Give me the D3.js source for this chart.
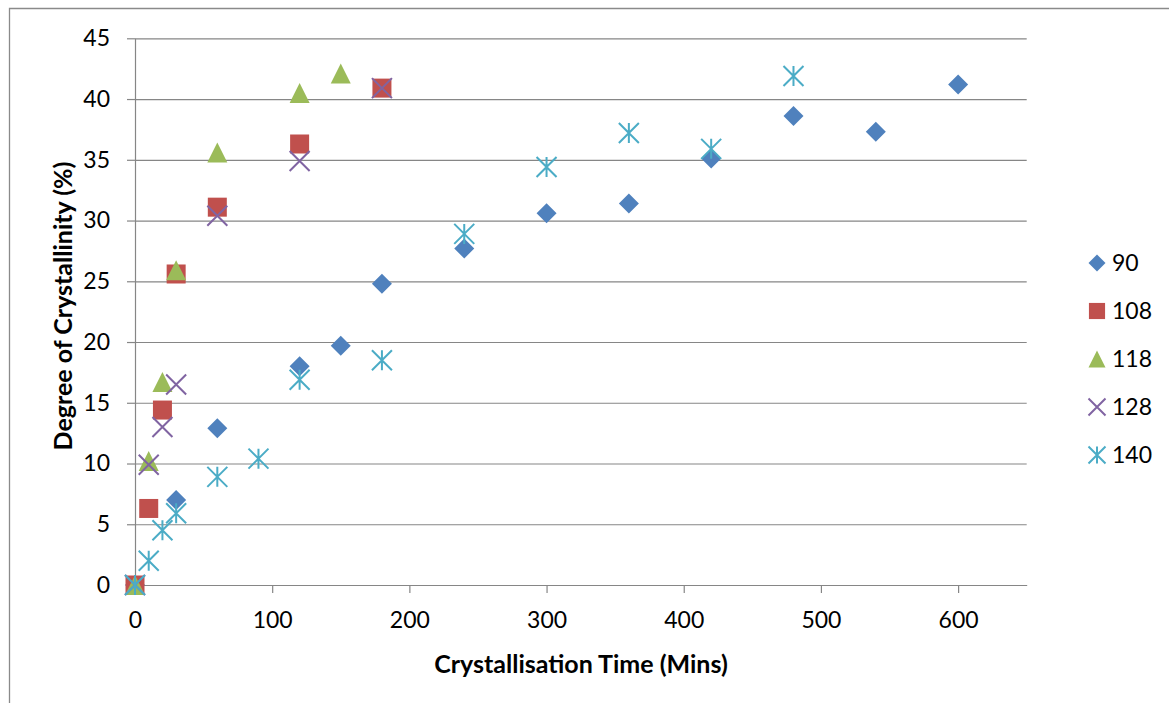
<!DOCTYPE html>
<html>
<head>
<meta charset="utf-8">
<script src="https://cdn.jsdelivr.net/npm/d3@7"></script>
<style>
  html, body { margin: 0; padding: 0; background: #fff; }
  svg { display: block; }
  text { font-family: Lato, "Open Sans", sans-serif; fill: #000; }
</style>
</head>
<body>
<svg id="chart" width="1169" height="703"></svg>
<script>
// ---- Data ----
const seriesNames = ["90", "108", "118", "128", "140"];
const time90  = [0, 30, 60, 120, 150, 180, 240, 300, 360, 420, 480, 540, 600];
const cryst90 = [0, 7.0, 12.9, 18.0, 19.7, 24.8, 27.7, 30.6, 31.4, 35.1, 38.6, 37.3, 41.2];
const time108  = [0, 10, 20, 30, 60, 120, 180];
const cryst108 = [0, 6.3, 14.4, 25.6, 31.1, 36.3, 40.9];
const time118  = [0, 10, 20, 30, 60, 120, 150];
const cryst118 = [0, 10.2, 16.7, 25.9, 35.6, 40.5, 42.1];
const time128  = [0, 10, 20, 30, 60, 120, 180];
const cryst128 = [0, 9.9, 13.0, 16.5, 30.4, 34.9, 40.9];
const time140  = [0, 10, 20, 30, 60, 90, 120, 180, 240, 300, 360, 420, 480];
const cryst140 = [0, 2.0, 4.5, 5.9, 8.9, 10.4, 16.9, 18.5, 28.9, 34.4, 37.2, 35.9, 41.9];
const xTicks = [0, 100, 200, 300, 400, 500, 600];
const yTicks = [0, 5, 10, 15, 20, 25, 30, 35, 40, 45];
const xTitle = "Crystallisation Time (Mins)";
const yTitle = "Degree of Crystallinity (%)";

(function () {
// ---- Layout / style ----
const colors = ["#4F81BD", "#C0504D", "#9BBB59", "#8064A2", "#4BACC6"];
const shapes = ["diamond", "square", "triangle", "cross", "star"];
const seriesTimes = [time90, time108, time118, time128, time140];
const seriesVals = [cryst90, cryst108, cryst118, cryst128, cryst140];

const plotL = 135, plotR = 1026.7, plotT = 38.3, plotB = 585;
const gridColor = "#868686";
const fontSize = 23;
const titleSize = 25;

const svg = d3.select("#chart");

// outer chart border (extends past the right/bottom edges)
svg.append("path")
  .attr("d", "M9.5,703 V8.5 H1169")
  .attr("fill", "none").attr("stroke", "#8a8a8a").attr("stroke-width", 1.3);

const x = d3.scaleLinear().domain([0, 650]).range([plotL, plotR]);
const y = d3.scaleLinear().domain([0, 45]).range([plotB, plotT]);

// horizontal gridlines
svg.append("g")
  .attr("transform", `translate(${plotL},0)`)
  .call(d3.axisLeft(y).tickValues(yTicks).tickSize(-(plotR - plotL)).tickFormat(""))
  .call(g => g.select(".domain").remove())
  .call(g => g.selectAll("line").attr("stroke", gridColor).attr("stroke-width", 1.2));

// y axis
svg.append("g")
  .attr("transform", `translate(${plotL},0)`)
  .call(d3.axisLeft(y).tickValues(yTicks).tickSize(8).tickSizeOuter(0).tickPadding(17))
  .call(g => g.select(".domain").attr("stroke", gridColor).attr("stroke-width", 1.2))
  .call(g => g.selectAll("line").attr("stroke", gridColor).attr("stroke-width", 1.2))
  .call(g => g.selectAll("text").attr("font-size", fontSize).attr("font-family", "Lato").attr("fill", "#000"));

// x axis
svg.append("g")
  .attr("transform", `translate(0,${plotB})`)
  .call(d3.axisBottom(x).tickValues(xTicks).tickSize(8).tickSizeOuter(0).tickPadding(19))
  .call(g => g.select(".domain").attr("stroke", gridColor).attr("stroke-width", 1.2))
  .call(g => g.selectAll("line").attr("stroke", gridColor).attr("stroke-width", 1.2))
  .call(g => g.selectAll("text").attr("font-size", fontSize).attr("font-family", "Lato").attr("fill", "#000"));

// axis titles
svg.append("text")
  .attr("x", 581).attr("y", 673)
  .attr("text-anchor", "middle")
  .attr("font-size", titleSize).attr("font-weight", "bold")
  .text(xTitle);

svg.append("text")
  .attr("transform", `translate(72,306) rotate(-90)`)
  .attr("text-anchor", "middle")
  .attr("font-size", titleSize).attr("font-weight", "bold")
  .text(yTitle);

// marker drawing
function drawMarker(g, shape, color, s) {
  const h = s / 2;
  if (shape === "diamond") {
    g.append("path").attr("d", `M0,${-h} L${h},0 L0,${h} L${-h},0 Z`).attr("fill", color);
  } else if (shape === "square") {
    g.append("rect").attr("x", -h * 0.95).attr("y", -h * 0.95)
      .attr("width", s * 0.95).attr("height", s * 0.95).attr("fill", color);
  } else if (shape === "triangle") {
    g.append("path").attr("d", `M0,${-h} L${h},${h} L${-h},${h} Z`).attr("fill", color);
  } else if (shape === "cross") {
    g.append("path").attr("d", `M${-h},${-h} L${h},${h} M${h},${-h} L${-h},${h}`)
      .attr("stroke", color).attr("stroke-width", 2).attr("fill", "none");
  } else if (shape === "star") {
    g.append("path").attr("d", `M${-h},${-h} L${h},${h} M${h},${-h} L${-h},${h} M0,${-h} L0,${h}`)
      .attr("stroke", color).attr("stroke-width", 2).attr("fill", "none");
  }
}

const markerSize = 20;
seriesNames.forEach((name, i) => {
  const pts = seriesTimes[i].map((t, j) => ({ t, v: seriesVals[i][j] }));
  const gs = svg.append("g").attr("class", "series-" + name);
  pts.forEach(p => {
    const g = gs.append("g").attr("transform", `translate(${x(p.t)},${y(p.v)})`);
    drawMarker(g, shapes[i], colors[i], markerSize);
  });
});

// legend
const legend = svg.append("g");
seriesNames.forEach((name, i) => {
  const ly = 263 + i * 48;
  const g = legend.append("g").attr("transform", `translate(1097,${ly})`);
  drawMarker(g, shapes[i], colors[i], 17);
  legend.append("text")
    .attr("x", 1112).attr("y", ly).attr("dy", "0.36em")
    .attr("font-size", fontSize)
    .text(name);
});
})();
</script>
</body>
</html>
